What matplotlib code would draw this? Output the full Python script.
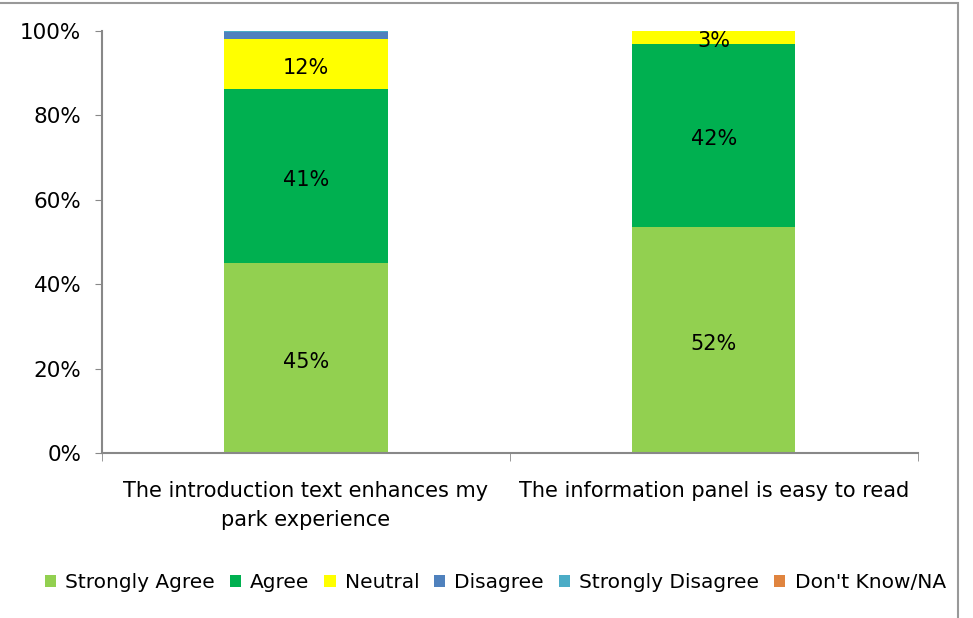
import numpy as np
import matplotlib.pyplot as plt
from matplotlib.patches import Rectangle

categories = ["The introduction text enhances my\npark experience",
              "The information panel is easy to read"]
series = ["Strongly Agree", "Agree", "Neutral", "Disagree",
          "Strongly Disagree", "Don't Know/NA"]
strongly_agree = [45, 52]
agree = [41, 42]
neutral = [12, 3]
disagree = [1.5, 0]
strongly_disagree = [0.3, 0]
dont_know = [0, 0]
colors = ["#92D050", "#00B050", "#FFFF00", "#4F81BD", "#4BACC6", "#E0843F"]

plt.rcParams['font.family'] = ['DejaVu Sans']

data = np.array([strongly_agree, agree, neutral, disagree,
                 strongly_disagree, dont_know], dtype=float)
totals = data.sum(axis=0)
shares = data / totals * 100

fig = plt.figure(figsize=(9.73, 6.18), dpi=100)
ax = fig.add_axes([0.105, 0.267, 0.838, 0.683])

x = np.arange(len(categories))
bottom = np.zeros(len(categories))
for name, vals, raw, col in zip(series, shares, data, colors):
    ax.bar(x, vals, width=0.4, bottom=bottom, color=col, label=name)
    for xi, v, r, b in zip(x, vals, raw, bottom):
        if r >= 3:
            ax.text(xi, b + v / 2 - 0.9, f"{r:.0f}%", ha="center", va="center",
                    fontsize=15, color="black")
    bottom += vals

ax.set_xlim(-0.5, 1.5)
ax.set_ylim(0, 100)
ax.set_yticks(np.arange(0, 101, 20))
ax.set_yticklabels([f"{v}%" for v in range(0, 101, 20)], fontsize=15.5)
ax.set_xticks(x)
ax.set_xticklabels(categories, fontsize=15, linespacing=1.6)
ax.tick_params(axis="x", which="major", length=0, pad=20)
ax.set_xticks([-0.5, 0.5, 1.5], minor=True)
ax.tick_params(axis="x", which="minor", length=6, color="#888888")
ax.tick_params(axis="y", length=5, color="#888888", pad=10)
for s in ["top", "right"]:
    ax.spines[s].set_visible(False)
for s in ["left", "bottom"]:
    ax.spines[s].set_color("#888888")
    ax.spines[s].set_linewidth(1.5)

handles, labels = ax.get_legend_handles_labels()
fig.legend(handles, labels, loc="center", bbox_to_anchor=(0.509, 0.057),
           ncol=6, frameon=False, fontsize=14.5, handlelength=0.55,
           handleheight=0.55, handletextpad=0.45, columnspacing=0.75)

fig.patches.append(Rectangle((-0.01, -0.01), 0.995, 1.005,
                             transform=fig.transFigure, fill=False,
                             edgecolor="#999999", linewidth=1.5))

fig.savefig("out.png", dpi=100)
